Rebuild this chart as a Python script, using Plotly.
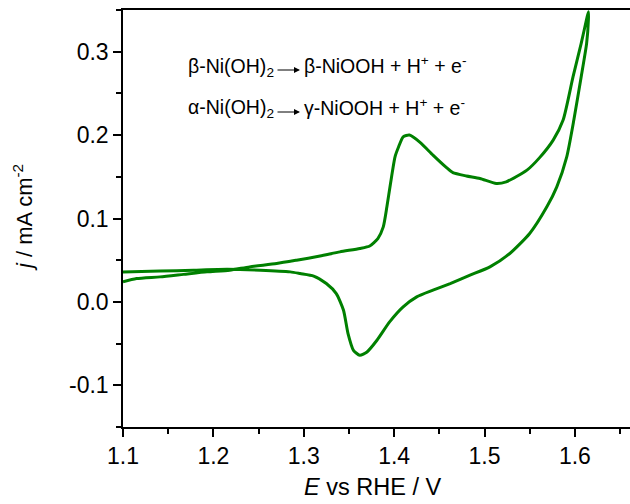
import plotly.graph_objects as go

# Anodic (forward) scan
E_fwd = [1.100, 1.115, 1.141, 1.167, 1.193, 1.218, 1.240, 1.270, 1.292, 1.318, 1.340, 1.362,
         1.373, 1.382, 1.388, 1.392, 1.396, 1.401, 1.405, 1.410, 1.417, 1.429, 1.443, 1.458,
         1.465, 1.480, 1.495, 1.513, 1.524, 1.547, 1.561, 1.576, 1.587, 1.598, 1.607, 1.613, 1.615]
j_fwd = [0.024, 0.028, 0.030, 0.033, 0.036, 0.038, 0.042, 0.046, 0.050, 0.055, 0.060, 0.064,
         0.067, 0.076, 0.090, 0.114, 0.142, 0.174, 0.186, 0.198, 0.200, 0.191, 0.176, 0.161,
         0.155, 0.151, 0.148, 0.142, 0.144, 0.158, 0.173, 0.194, 0.218, 0.270, 0.310, 0.339, 0.348]

# Cathodic (reverse) scan
E_rev = [1.615, 1.613, 1.607, 1.599, 1.591, 1.580, 1.569, 1.550, 1.528, 1.506, 1.484, 1.462,
         1.443, 1.425, 1.410, 1.395, 1.381, 1.370, 1.362, 1.355, 1.349, 1.344, 1.336, 1.325,
         1.311, 1.296, 1.285, 1.252, 1.215, 1.178, 1.141, 1.100]
j_rev = [0.339, 0.310, 0.270, 0.219, 0.174, 0.138, 0.114, 0.082, 0.058, 0.042, 0.032, 0.022,
         0.014, 0.006, -0.006, -0.024, -0.046, -0.060, -0.064, -0.058, -0.038, -0.010, 0.010, 0.022,
         0.031, 0.034, 0.036, 0.038, 0.039, 0.038, 0.037, 0.036]

x_ticks = [1.1, 1.2, 1.3, 1.4, 1.5, 1.6]
x_ticktext = ["1.1", "1.2", "1.3", "1.4", "1.5", "1.6"]
y_ticks = [-0.1, 0.0, 0.1, 0.2, 0.3]
y_ticktext = ["-0.1", "0.0", "0.1", "0.2", "0.3"]

FONT = "Liberation Sans, Arial, sans-serif"
GREEN = "rgb(0,128,0)"

fig = go.Figure()
fig.add_trace(go.Scatter(x=E_fwd + E_rev, y=j_fwd + j_rev, mode="lines",
                         line=dict(color=GREEN, width=3, shape="spline", smoothing=0.6),
                         showlegend=False, hoverinfo="skip"))

W, H = 630, 504
L, R, T, B = 123, 0, 10, 77
pw, ph = W - L - R, H - T - B

def px(x):
    return (x - L) / pw

def py(y):
    return (H - B - y) / ph

ann = []
fs = 19.5
# line 1
ann.append(dict(x=px(276), y=py(67), xref="paper", yref="paper", xanchor="right", yanchor="middle",
                text="β-Ni(OH)<sub>2</sub>", showarrow=False, font=dict(size=fs, family=FONT, color="black")))
ann.append(dict(x=px(300), y=py(70), xref="paper", yref="paper", ax=-24, ay=0, text="",
                showarrow=True, arrowhead=2, arrowsize=1.2, arrowwidth=1, arrowcolor="black"))
ann.append(dict(x=px(302), y=py(65), xref="paper", yref="paper", xanchor="left", yanchor="middle",
                text="β-NiOOH + H<sup>+</sup> + e<sup>-</sup>", showarrow=False,
                font=dict(size=fs, family=FONT, color="black")))
# line 2
ann.append(dict(x=px(276), y=py(109), xref="paper", yref="paper", xanchor="right", yanchor="middle",
                text="α-Ni(OH)<sub>2</sub>", showarrow=False, font=dict(size=fs, family=FONT, color="black")))
ann.append(dict(x=px(300), y=py(112), xref="paper", yref="paper", ax=-24, ay=0, text="",
                showarrow=True, arrowhead=2, arrowsize=1.2, arrowwidth=1, arrowcolor="black"))
ann.append(dict(x=px(302), y=py(107), xref="paper", yref="paper", xanchor="left", yanchor="middle",
                text="γ-NiOOH + H<sup>+</sup> + e<sup>-</sup>", showarrow=False,
                font=dict(size=fs, family=FONT, color="black")))
# axis titles
ann.append(dict(x=px(372), y=py(487), xref="paper", yref="paper", xanchor="center", yanchor="middle",
                text="<i>E</i> vs RHE / V", showarrow=False, font=dict(size=23.5, family=FONT, color="black")))
ann.append(dict(x=px(23), y=py(218), xref="paper", yref="paper", xanchor="center", yanchor="middle",
                textangle=-90, text="<i>j</i> / mA cm<sup>-2</sup>", showarrow=False,
                font=dict(size=22, family=FONT, color="black")))

fig.update_layout(
    width=W, height=H,
    margin=dict(l=L, r=R, t=T, b=B, pad=0),
    paper_bgcolor="white", plot_bgcolor="white",
    font=dict(family=FONT, size=23, color="black"),
    annotations=ann,
    xaxis=dict(range=[1.1, 1.661], tickvals=x_ticks, ticktext=x_ticktext,
               showline=True, linecolor="black", linewidth=1.5, mirror=True,
               ticks="outside", ticklen=8, tickwidth=1.5, tickcolor="black",
               minor=dict(dtick=0.05, tick0=1.1, ticks="outside", ticklen=5, tickwidth=1.5, tickcolor="black"),
               showgrid=False, zeroline=False),
    yaxis=dict(range=[-0.15, 0.35], tickvals=y_ticks, ticktext=y_ticktext,
               showline=True, linecolor="black", linewidth=1.5,
               ticks="outside", ticklen=8, tickwidth=1.5, tickcolor="black",
               minor=dict(dtick=0.05, tick0=-0.15, ticks="outside", ticklen=5, tickwidth=1.5, tickcolor="black"),
               showgrid=False, zeroline=False),
)

fig.write_html("out.html")
